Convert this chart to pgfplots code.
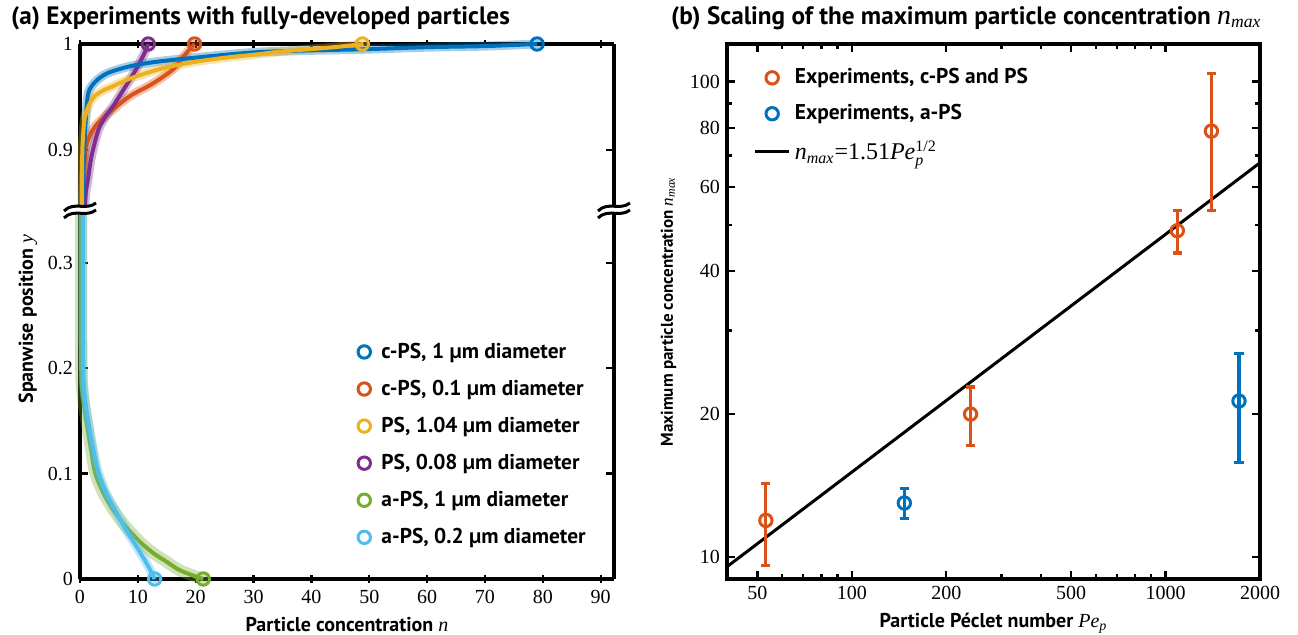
\documentclass[border=0pt]{standalone}
\usepackage{amsmath}
\usepackage{pgfplots}
\pgfplotsset{compat=1.18}
\usepackage{fontspec}
\setmainfont{Liberation Serif}
\newfontfamily\sans{PT Sans}

\definecolor{mblue}{HTML}{0072BD}
\definecolor{morange}{HTML}{D95319}
\definecolor{myellow}{HTML}{EDB120}
\definecolor{mpurple}{HTML}{7E2F8E}
\definecolor{mgreen}{HTML}{77AC30}
\definecolor{mcyan}{HTML}{4DBEEE}

\newcommand{\ivar}[1]{{\rmfamily\mdseries\itshape #1}}

\pgfplotsset{
  mat/.style={
    scale only axis,
    tick align=inside,
    major tick length=4pt,
    minor tick length=2.5pt,
    every tick/.style={black, line width=1.2pt},
    axis line style={black, line width=1.6pt},
    tick label style={font=\fontsize{10}{11}\selectfont},
    /pgf/number format/assume math mode=true,
    label style={font=\sans\bfseries\fontsize{10}{12}\selectfont},
    clip=false,
  },
  band/.style={#1, opacity=0.35, line width=4.5pt, line join=round, line cap=round, smooth, tension=0.5, forget plot},
  crv/.style={#1, line width=2pt, line join=round, smooth, tension=0.5, forget plot},
  endmk/.style={#1, only marks, mark=o, mark size=3.1pt, line width=1.5pt, mark options={fill=none}},
  ebar/.style={error bars/.cd, y dir=both, y explicit,
    error bar style={line width=1.6pt, solid},
    error mark options={line width=1.6pt, mark size=2.3pt, rotate=90}},
}

\begin{document}
\begin{tikzpicture}
\useasboundingbox (0,0) rectangle (649pt,317.5pt);

% ---- panel (a), lower part
\begin{axis}[mat,
  at={(40pt,28pt)}, anchor=south west,
  width=267pt, height=184.5pt,
  xmin=0, xmax=92.3, ymin=0, ymax=0.35,
  axis x line=bottom, axis y line=box,
  x axis line style={-}, y axis line style={-},
  xtick={0,10,...,90},
  ytick={0,0.1,0.2,0.3}, yticklabels={0,0.1,0.2,0.3},
  xlabel={Particle concentration \ivar{n}},
  legend style={draw=none, fill=none, at={(0.52,0.652)}, anchor=north west,
    font=\sans\bfseries\fontsize{10.7}{12}\selectfont, row sep=5.4pt, column sep=3.5pt, inner sep=0pt},
  legend cell align=left,
]
\addlegendimage{endmk=mblue}\addlegendentry{c-PS, 1 µm diameter}
\addlegendimage{endmk=morange}\addlegendentry{c-PS, 0.1 µm diameter}
\addlegendimage{endmk=myellow}\addlegendentry{PS, 1.04 µm diameter}
\addlegendimage{endmk=mpurple}\addlegendentry{PS, 0.08 µm diameter}
\addlegendimage{endmk=mgreen}\addlegendentry{a-PS, 1 µm diameter}
\addlegendimage{endmk=mcyan}\addlegendentry{a-PS, 0.2 µm diameter}

\addplot[band=mgreen, line width=6pt] coordinates {
  (0.15,0.35) (0.15,0.25) (0.25,0.19) (0.7,0.165) (1.35,0.142) (2.0,0.12)
  (2.6,0.101) (4,0.082) (5.7,0.066) (8,0.049) (10.6,0.034) (12.8,0.024)
  (14.9,0.0166) (17,0.009) (19.2,0.004) (21.3,0)};
\addplot[crv=mgreen] coordinates {
  (0.15,0.35) (0.15,0.25) (0.25,0.19) (0.7,0.165) (1.35,0.142) (2.0,0.12)
  (2.6,0.101) (4,0.082) (5.7,0.066) (8,0.049) (10.6,0.034) (12.8,0.024)
  (14.9,0.0166) (17,0.009) (19.2,0.004) (21.3,0)};
\addplot[band=mcyan] coordinates {
  (0.5,0.35) (0.5,0.25) (0.6,0.19) (1.0,0.165) (1.66,0.142) (2.4,0.12)
  (3.2,0.101) (4.4,0.083) (5.7,0.069) (7.2,0.054) (8.7,0.040) (10.3,0.026)
  (11.8,0.012) (12.9,0)};
\addplot[crv=mcyan] coordinates {
  (0.5,0.35) (0.5,0.25) (0.6,0.19) (1.0,0.165) (1.66,0.142) (2.4,0.12)
  (3.2,0.101) (4.4,0.083) (5.7,0.069) (7.2,0.054) (8.7,0.040) (10.3,0.026)
  (11.8,0.012) (12.9,0)};
\addplot[endmk=mgreen, forget plot] coordinates {(21.3,0)};
\addplot[endmk=mcyan, forget plot] coordinates {(12.9,0)};
\end{axis}

% ---- panel (a), upper part
\begin{axis}[mat,
  at={(40pt,212.5pt)}, anchor=south west,
  width=267pt, height=83pt,
  xmin=0, xmax=92.3, ymin=0.843, ymax=1,
  axis x line=top, axis y line=box,
  x axis line style={-}, y axis line style={-},
  xtick={0,10,...,90}, xticklabels={},
  ytick={0.9,1}, yticklabels={0.9,1},
]
\addplot[band=mblue] coordinates {
  (0.4,0.843) (0.6,0.88) (0.9,0.92) (1.35,0.951) (2.0,0.96) (3.2,0.967)
  (5,0.973) (8.7,0.979) (13,0.983) (19.8,0.987) (30,0.992) (40,0.994)
  (49,0.995) (60,0.997) (70,0.998) (79,1)};
\addplot[band=morange] coordinates {
  (0.5,0.843) (0.7,0.875) (1.05,0.903) (2.6,0.922) (5.7,0.938) (8.7,0.951)
  (12.4,0.962) (16.1,0.976) (18,0.989) (19.8,1)};
\addplot[band=mpurple] coordinates {
  (0.8,0.843) (1.0,0.86) (1.35,0.871) (2.0,0.894) (3.2,0.919) (4.5,0.932)
  (5.7,0.941) (7.2,0.954) (8.7,0.967) (10,0.979) (11.2,0.992) (11.8,1)};
\addplot[band=myellow] coordinates {
  (0.3,0.843) (0.35,0.88) (0.43,0.903) (0.7,0.925) (1.05,0.935) (1.8,0.945)
  (2.6,0.951) (4,0.956) (5.7,0.960) (8.5,0.967) (11.8,0.973) (15,0.978)
  (19.8,0.983) (25,0.987) (30.3,0.990) (35,0.993) (39.5,0.995) (44,0.997) (49,1)};
\addplot[crv=morange] coordinates {
  (0.5,0.843) (0.7,0.875) (1.05,0.903) (2.6,0.922) (5.7,0.938) (8.7,0.951)
  (12.4,0.962) (16.1,0.976) (18,0.989) (19.8,1)};
\addplot[crv=mpurple] coordinates {
  (0.8,0.843) (1.0,0.86) (1.35,0.871) (2.0,0.894) (3.2,0.919) (4.5,0.932)
  (5.7,0.941) (7.2,0.954) (8.7,0.967) (10,0.979) (11.2,0.992) (11.8,1)};
\addplot[crv=mblue] coordinates {
  (0.4,0.843) (0.6,0.88) (0.9,0.92) (1.35,0.951) (2.0,0.96) (3.2,0.967)
  (5,0.973) (8.7,0.979) (13,0.983) (19.8,0.987) (30,0.992) (40,0.994)
  (49,0.995) (60,0.997) (70,0.998) (79,1)};
\addplot[crv=myellow] coordinates {
  (0.3,0.843) (0.35,0.88) (0.43,0.903) (0.7,0.925) (1.05,0.935) (1.8,0.945)
  (2.6,0.951) (4,0.956) (5.7,0.960) (8.5,0.967) (11.8,0.973) (15,0.978)
  (19.8,0.983) (25,0.987) (30.3,0.990) (35,0.993) (39.5,0.995) (44,0.997) (49,1)};
\addplot[endmk=mblue] coordinates {(79,1)};
\addplot[endmk=morange] coordinates {(19.8,1)};
\addplot[endmk=myellow] coordinates {(48.8,1)};
\addplot[endmk=mpurple] coordinates {(11.8,1)};
\end{axis}

% axis break marks
\foreach \bx in {40pt,307pt}{
  \begin{scope}[shift={(\bx,212.5pt)}]
    \fill[white] (-8pt,-4pt) .. controls (-3pt,1pt) and (3pt,-4pt) .. (8pt,0pt)
      -- (8pt,3.5pt) .. controls (3pt,-0.5pt) and (-3pt,4.5pt) .. (-8pt,-0.5pt) -- cycle;
    \draw[line width=1.5pt] (-8pt,-4pt) .. controls (-3pt,1pt) and (3pt,-4pt) .. (8pt,0pt);
    \draw[line width=1.5pt] (-8pt,-0.5pt) .. controls (-3pt,4.5pt) and (3pt,-0.5pt) .. (8pt,3.5pt);
  \end{scope}
}

\node[rotate=90, font=\sans\bfseries\fontsize{10}{12}\selectfont] at (14pt,158pt)
  {Spanwise position \ivar{y}};
\node[anchor=west, font=\sans\bfseries\fontsize{12.6}{14}\selectfont] at (2pt,308.5pt)
  {(a) Experiments with fully-developed particles};
\node[anchor=west, font=\sans\bfseries\fontsize{12.6}{14}\selectfont] at (332pt,308.5pt)
  {(b) Scaling of the maximum particle concentration {\fontsize{14}{14}\selectfont\ivar{n}}\textsubscript{\ivar{max}}};

% ---- panel (b)
\begin{axis}[mat,
  at={(363.5pt,28pt)}, anchor=south west,
  width=266.5pt, height=267.5pt,
  xmode=log, ymode=log,
  xmin=40, xmax=2000, ymin=9, ymax=120,
  xtick={50,100,200,500,1000,2000}, xticklabels={50,100,200,500,1000,2000},
  minor xtick={60,70,80,90,300,400,600,700,800,900},
  ytick={10,20,40,60,80,100}, yticklabels={10,20,40,60,80,100},
  minor ytick={30,50,70,90},
  xlabel={Particle Péclet number \ivar{Pe}\textsubscript{\ivar{p}}},
  ylabel={Maximum particle concentration \ivar{n}\textsubscript{\ivar{max}}},
  ylabel style={font=\sans\bfseries\fontsize{8.5}{10}\selectfont},
  legend style={draw=none, fill=none, at={(0.049,0.962)}, anchor=north west,
    font=\sans\bfseries\fontsize{10.7}{12}\selectfont, row sep=4.8pt, inner sep=0pt},
  legend cell align=left,
]
\addlegendimage{endmk=morange}\addlegendentry{Experiments, c-PS and PS}
\addlegendimage{endmk=mblue}\addlegendentry{Experiments, a-PS}
\addlegendimage{black, line width=1.6pt}\addlegendentry{{\rmfamily\mdseries\fontsize{12}{12}\selectfont\textit{n}$_{\text{\itshape max}}$=1.51\textit{Pe}$_{\text{\itshape p}}^{\text{1/2}}$}}

\addplot[black, line width=1.5pt, forget plot] coordinates {(40,9.55) (2000,67.53)};
\addplot[endmk=morange, forget plot, ebar]
  coordinates {
  (53.2,11.95) +- (0,2.35)
  (239,20.0) +- (0,2.8)
  (1090,48.6) +- (0,5.0)
  (1400,78.7) +- (0,25.2)};
\addplot[endmk=mblue, forget plot, ebar]
  coordinates {
  (147,13.0) +- (0,0.93)
  (1714,21.3) +- (0,5.5)};
\end{axis}
\end{tikzpicture}
\end{document}
